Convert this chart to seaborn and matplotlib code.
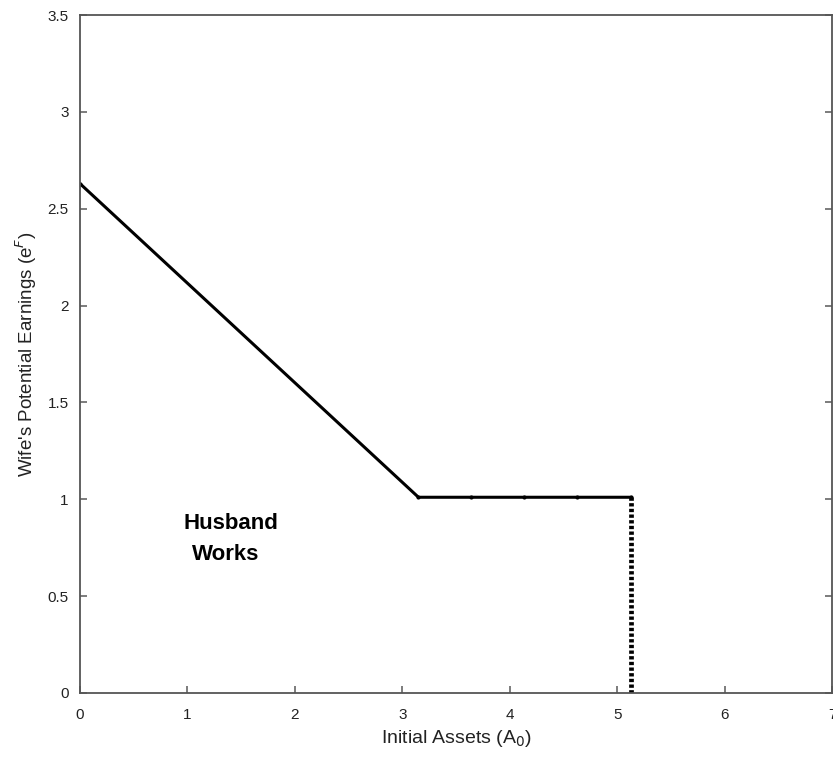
import matplotlib
matplotlib.use("Agg")
import matplotlib.pyplot as plt
import seaborn as sns
import pandas as pd

sns.set_theme(style="white")
plt.rcParams["font.family"] = ["Liberation Sans", "DejaVu Sans"]

# Participation frontier: sloped part, then flat part at e^F ~ 1
frontier_assets = [0.0, 3.15, 3.64, 4.13, 4.63, 5.13]
frontier_earnings = [2.63, 1.01, 1.01, 1.01, 1.01, 1.01]
# Vertical boundary at the asset threshold
boundary_assets = [5.13, 5.13]
boundary_earnings = [1.01, 0.0]

x_ticks = [0, 1, 2, 3, 4, 5, 6, 7]
y_ticks = [0, 0.5, 1, 1.5, 2, 2.5, 3, 3.5]
y_tick_labels = ["0", "0.5", "1", "1.5", "2", "2.5", "3", "3.5"]

frontier = pd.DataFrame({"assets": frontier_assets, "earnings": frontier_earnings})
boundary = pd.DataFrame({"assets": boundary_assets, "earnings": boundary_earnings})

fig = plt.figure(figsize=(8.33, 7.58), dpi=100)
ax = fig.add_axes([0.096, 0.086, 0.903, 0.894])

sns.lineplot(data=frontier, x="assets", y="earnings", ax=ax, color="black",
             linewidth=2.2, marker="o", markersize=3, markeredgewidth=0,
             sort=False, estimator=None)
sns.lineplot(data=boundary, x="assets", y="earnings", ax=ax, color="black",
             linewidth=3.4, linestyle=(0, (0.7, 0.5)), sort=False, estimator=None)

ax.set_xlim(0, 7)
ax.set_ylim(0, 3.5)
ax.set_xticks(x_ticks)
ax.set_xticklabels([str(t) for t in x_ticks])
ax.set_yticks(y_ticks)
ax.set_yticklabels(y_tick_labels)

ax.tick_params(direction="in", length=5, width=1.2, color="#666666",
               labelsize=11, labelcolor="#222222", top=False, right=True,
               bottom=True, left=True)
ax.tick_params(axis="x", pad=11)
ax.tick_params(axis="y", pad=8)
for side in ["left", "right", "top", "bottom"]:
    ax.spines[side].set_color("#555555")
    ax.spines[side].set_linewidth(1.3)

ax.set_xlabel("Initial Assets (A$_0$)", fontsize=14, color="#222222", labelpad=4)
ax.set_ylabel("Wife's Potential Earnings (e$^F$)", fontsize=13.5, color="#222222", labelpad=6)

ax.text(0.967, 0.873, "Husband", fontsize=16, fontweight="bold",
        ha="left", va="center", color="black")
ax.text(1.04, 0.712, "Works", fontsize=16, fontweight="bold",
        ha="left", va="center", color="black")

fig.savefig("out.png", dpi=100)
